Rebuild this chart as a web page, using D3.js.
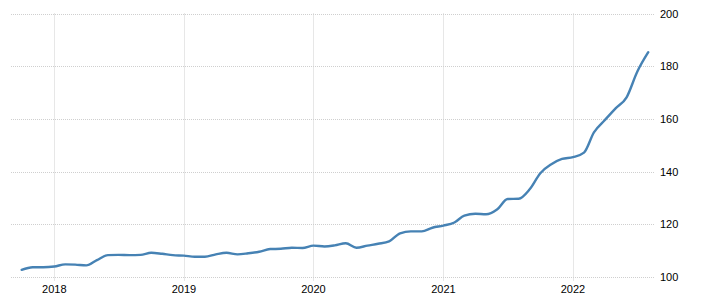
<!DOCTYPE html>
<html>
<head>
<meta charset="utf-8">
<script src="https://cdn.jsdelivr.net/npm/d3@7"></script>
<style>
  body { margin: 0; background: #fff; }
  svg { display: block; font-family: "Liberation Sans", Arial, sans-serif; }
</style>
</head>
<body>
<svg id="chart" width="702" height="305"></svg>
<script>
// monthly values, Oct 2017 .. Aug 2022
var startMonth = "2017-10";
var values = [
    102.7, 103.7, 103.7,
    104.0, 104.8, 104.7, 104.4, 106.4, 108.3, 108.4, 108.3, 108.4, 109.2, 108.8, 108.3,
    108.1, 107.7, 107.7, 108.6, 109.2, 108.6, 109.0, 109.6, 110.6, 110.7, 111.1, 111.0,
    111.9, 111.6, 112.0, 112.8, 111.1, 111.9, 112.6, 113.5, 116.6, 117.3, 117.3, 118.7,
    119.5, 120.7, 123.3, 124.0, 123.8, 125.6, 129.6, 129.7, 133.3, 139.4, 142.8, 144.8,
    145.5, 147.2, 154.9, 159.6, 164.0, 168.2, 177.9, 185.3
];
var yTicks = [100, 120, 140, 160, 180, 200];
var xTickYears = [2018, 2019, 2020, 2021, 2022];

var parseMonth = d3.timeParse("%Y-%m");
var dates = values.map(function(v, i) {
    return d3.timeMonth.offset(parseMonth(startMonth), i);
});
var data = values.map(function(v, i) { return { date: dates[i], value: v }; });

var svg = d3.select("#chart");

var x = d3.scaleTime()
    .domain([new Date(2017, 8, 1), new Date(2022, 7, 20)])
    .range([11, 655]);

var y = d3.scaleLinear()
    .domain([100, 200])
    .range([277, 13.5]);

var grid = svg.append("g");

// horizontal grid
grid.selectAll("line.h")
    .data(yTicks)
    .enter()
    .append("line")
    .attr("x1", 11)
    .attr("x2", 655)
    .attr("y1", function(d) { return Math.round(y(d)) + 0.5; })
    .attr("y2", function(d) { return Math.round(y(d)) + 0.5; })
    .style("stroke", "#cfcfcf")
    .style("stroke-dasharray", "1,1");

// vertical grid
grid.selectAll("line.v")
    .data(xTickYears)
    .enter()
    .append("line")
    .attr("x1", function(d) { return Math.round(x(new Date(d, 0, 1))) + 0.5; })
    .attr("x2", function(d) { return Math.round(x(new Date(d, 0, 1))) + 0.5; })
    .attr("y1", 13.5)
    .attr("y2", 281)
    .style("stroke", "#cfcfcf")
    .style("stroke-dasharray", "1,1");

// y labels
svg.selectAll("text.y")
    .data(yTicks)
    .enter()
    .append("text")
    .attr("x", 660)
    .attr("y", function(d) { return y(d) + 4; })
    .style("font-size", "11px")
    .style("fill", "#000")
    .text(function(d) { return d; });

// x labels
svg.selectAll("text.x")
    .data(xTickYears)
    .enter()
    .append("text")
    .attr("x", function(d) { return x(new Date(d, 0, 1)); })
    .attr("y", 293)
    .attr("text-anchor", "middle")
    .style("font-size", "11px")
    .style("fill", "#000")
    .text(function(d) { return d; });

var line = d3.line()
    .x(function(d) { return x(d.date); })
    .y(function(d) { return y(d.value); })
    .curve(d3.curveMonotoneX);

svg.append("path")
    .datum(data)
    .attr("d", line)
    .style("fill", "none")
    .style("stroke", "#4682b4")
    .style("stroke-width", 2.4)
    .style("stroke-linejoin", "round")
    .style("stroke-linecap", "round");
</script>
</body>
</html>
